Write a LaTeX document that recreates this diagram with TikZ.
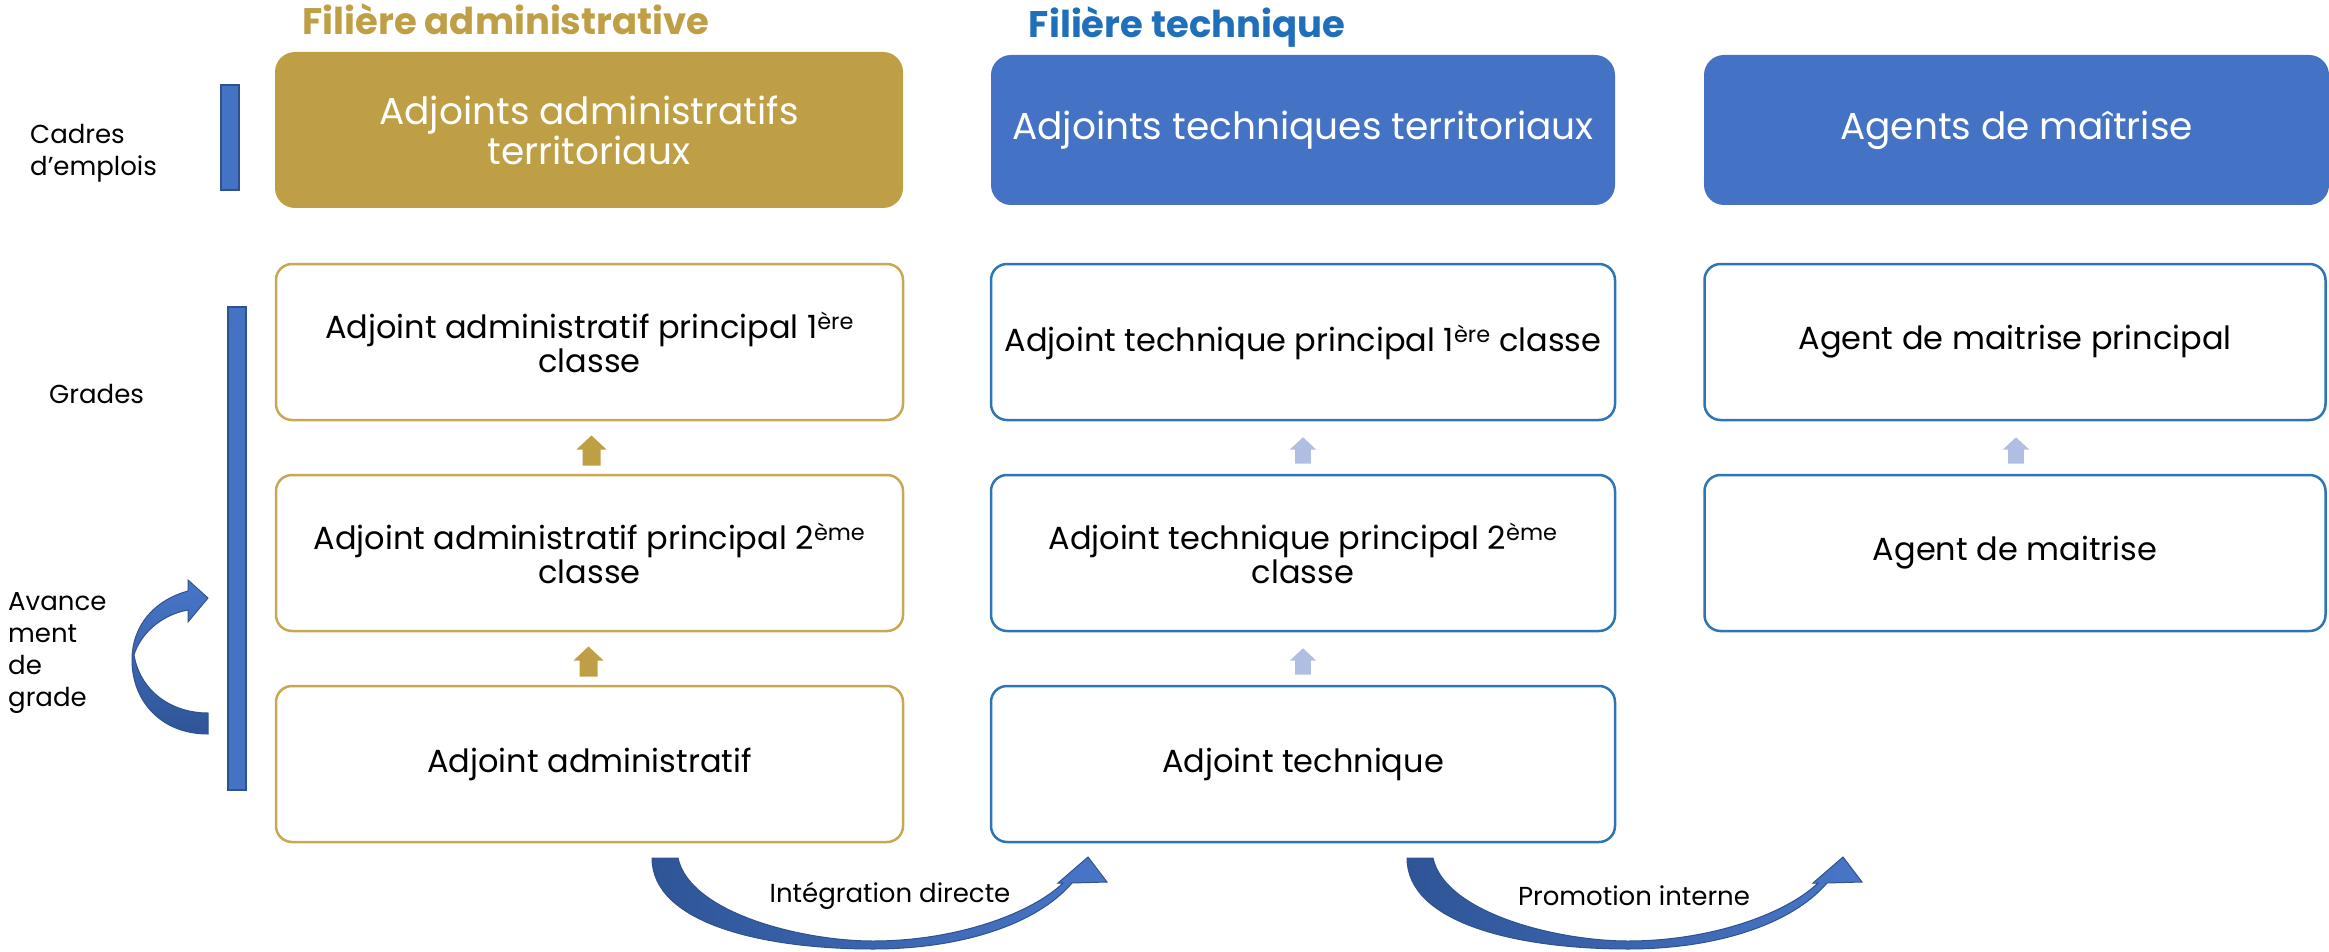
\documentclass[tikz,border=0pt]{standalone}
\usepackage{fontspec}
\setmainfont{Poppins}
\usetikzlibrary{calc}

\definecolor{goldF}{RGB}{191,159,69}
\definecolor{goldB}{RGB}{200,169,82}
\definecolor{blueF}{RGB}{68,114,196}
\definecolor{blueB}{RGB}{46,117,182}
\definecolor{blueT}{RGB}{31,111,186}
\definecolor{paleArr}{RGB}{176,190,226}
\definecolor{bandDark}{RGB}{47,85,151}
\definecolor{bandLight}{RGB}{72,118,200}
\definecolor{bandLine}{RGB}{47,82,143}

\begin{document}
\begin{tikzpicture}[x=1pt,y=-1pt,
  hdr/.style={rectangle, rounded corners=20pt, inner sep=0pt, text=white,
    align=center, font=\fontsize{37.5}{40}\selectfont},
  gradebox/.style={rectangle, rounded corners=16pt, line width=2.5pt, fill=white,
    minimum height=156pt, inner sep=0pt, align=center,
    font=\fontsize{32}{34}\selectfont},
  admbox/.style={gradebox, draw=goldB, minimum width=627pt},
  tecbox/.style={gradebox, draw=blueB, minimum width=624pt},
  maibox/.style={gradebox, draw=blueB, minimum width=621pt},
  sidelabel/.style={anchor=west, align=left, inner sep=0pt,
    font=\fontsize{26}{32}\selectfont},
  filiere/.style={inner sep=0pt, font=\fontsize{37}{40}\selectfont\bfseries},
  bandlabel/.style={inner sep=0pt, font=\fontsize{26}{30}\selectfont},
  bar/.style={fill=blueF, draw=bandLine, line width=1.5pt},
  uparr/.pic={\fill[pic actions] (0,-15) -- (15,-1) -- (9,-1) -- (9,15)
    -- (-9,15) -- (-9,-1) -- (-15,-1) -- cycle;},
  bandarrow/.pic={\shadedraw[left color=bandDark, right color=bandLight,
      draw=bandLine, line width=1pt]
    (0,0) -- (26,0) .. controls (38,55) and (150,83) .. (221,83)
    .. controls (305,83) and (380,55) .. (411,25) -- (406,25) -- (436,-1)
    -- (455,24) -- (420,25) .. controls (385,66) and (310,91) .. (221,91)
    .. controls (110,91) and (0,65) .. (0,0) -- cycle;}
]
\useasboundingbox (0,0) rectangle (2329,952);

% branch titles
\node[filiere, text=goldF] (tA) at (506,19) {Filière administrative};
\node[filiere, text=blueT] (tT) at (1187,27) {Filière technique};

% cadres d'emplois
\node[hdr, fill=goldF, minimum width=628pt, minimum height=156pt] (hA) at (589,130)
  {Adjoints administratifs\\territoriaux};
\node[hdr, fill=blueF, minimum width=624pt, minimum height=150pt] (hT) at (1303,130)
  {Adjoints techniques territoriaux};
\node[hdr, fill=blueF, minimum width=625pt, minimum height=150pt] (hM) at (2016.5,130)
  {Agents de maîtrise};

% grades, administrative branch
\node[admbox] (a1) at (589.5,342) {Adjoint administratif principal 1\textsuperscript{ère}\\classe};
\node[admbox] (a2) at (589.5,553) {Adjoint administratif principal 2\textsuperscript{ème}\\classe};
\node[admbox] (a3) at (589.5,764) {Adjoint administratif};

% grades, technical branch
\node[tecbox] (t1) at (1303,342) {Adjoint technique principal 1\textsuperscript{ère} classe};
\node[tecbox] (t2) at (1303,553) {Adjoint technique principal 2\textsuperscript{ème}\\classe};
\node[tecbox] (t3) at (1303,764) {Adjoint technique};

% grades, agents de maîtrise
\node[maibox] (m1) at (2015,342) {Agent de maitrise principal};
\node[maibox] (m2) at (2015,553) {Agent de maitrise};

% promotion steps between grades
\pic[fill=goldF] at ($(a2.north)!0.5!(a1.south)+(2,3)$) {uparr};
\pic[fill=goldF] at ($(a3.north)!0.5!(a2.south)+(-1,3)$) {uparr};
\pic[fill=paleArr, scale=0.88] at ($(t2.north)!0.5!(t1.south)+(0,3)$) {uparr};
\pic[fill=paleArr, scale=0.88] at ($(t3.north)!0.5!(t2.south)+(0,3)$) {uparr};
\pic[fill=paleArr, scale=0.88] at ($(m2.north)!0.5!(m1.south)+(1,3)$) {uparr};

% left-hand legend
\node[sidelabel] (lC) at (30,153) {Cadres\\d’emplois};
\draw[bar] (221,85) rectangle (239,190);
\node[sidelabel] (lG) at (49,394) {Grades};
\draw[bar] (228,307) rectangle (246,790);
\node[sidelabel] (lAv) at (8,653) {Avance\\ment\\de\\grade};
\shadedraw[top color=bandLight, bottom color=bandDark, draw=bandLine, line width=1pt]
  (208,713) .. controls (170,713) and (140,690) .. (134,655)
  .. controls (140,635) and (160,615) .. (188,610)
  -- (188,622) -- (208,598) -- (188,580) -- (188,591)
  .. controls (155,600) and (132,625) .. (132,660)
  .. controls (132,700) and (160,734) .. (208,734) -- cycle;

% moves between branches
\pic at (652,858) {bandarrow};
\node[bandlabel] (iD) at (890,896) {Intégration directe};
\pic at (1407,858) {bandarrow};
\node[bandlabel] (pI) at (1634,896) {Promotion interne};
\end{tikzpicture}
\end{document}
